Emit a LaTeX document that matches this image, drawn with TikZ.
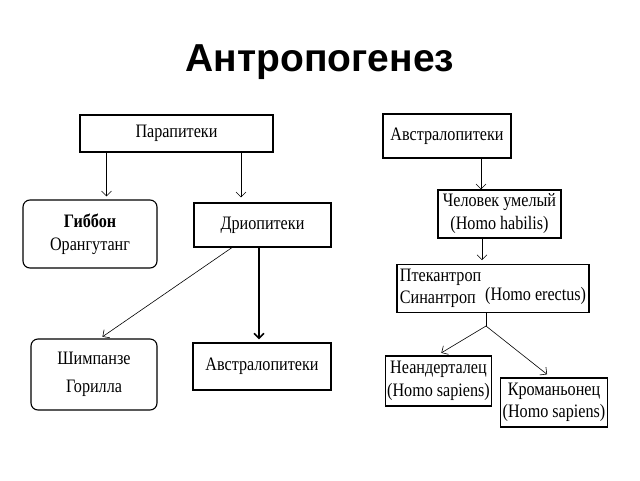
\documentclass[tikz,border=0pt]{standalone}
\usepackage{fontspec}
\usetikzlibrary{arrows.meta}
\setmainfont[FakeStretch=0.85]{Liberation Serif}
\newfontfamily\titlefont{Liberation Sans}
\begin{document}
\begin{tikzpicture}[>={Straight Barb[length=5pt,width=10pt]}, x=1pt, y=-1pt, line width=1.1pt]
\tikzstyle{every node}=[inner sep=2pt, font=\fontsize{19}{23}\selectfont, align=center]
\tikzstyle{box}=[draw, rectangle]
\tikzstyle{rbox}=[draw, rectangle, rounded corners=7pt]
\useasboundingbox (0,0) rectangle (640,480);
\node (title) at (320,62) {\titlefont\bfseries\fontsize{39}{44}\selectfont Антропогенез};
% left tree
\node[box, line width=1.6pt, minimum width=193pt, minimum height=37pt] (para) at (176.5,133.5) {Парапитеки};
\node[rbox, minimum width=134pt, minimum height=68pt] (gib) at (90,234) {\textbf{Гиббон}\\Орангутанг};
\node[box, minimum width=137pt, minimum height=44pt] (drio) at (262.5,225) {Дриопитеки};
\node[rbox, minimum width=126pt, minimum height=71pt] (chimp) at (94,374.5) {Шимпанзе\\[5pt]Горилла};
\node[box, minimum width=138pt, minimum height=47pt] (australL) at (262,366.5) {Австралопитеки};
\draw[->, line width=0.6pt, shorten >=3pt] ([xshift=-70pt]para.south) -- ([xshift=-70pt]para.south |- gib.north);
\draw[->, line width=0.6pt, shorten >=5pt] ([xshift=64.5pt]para.south) -- ([xshift=64.5pt]para.south |- drio.north);
\draw[->, line width=0.6pt, shorten >=3pt] ([xshift=-30.5pt]drio.south) -- ([xshift=6pt]chimp.north);
\draw[->, line width=1.6pt, shorten >=3pt] ([xshift=-3.5pt]drio.south) -- ([xshift=-3.5pt]drio.south |- australL.north);
% right tree
\node[box, minimum width=128pt, minimum height=44pt] (australR) at (447,136) {Австралопитеки};
\node[box, minimum width=123pt, minimum height=48pt] (habilis) at (499.5,214) {Человек умелый\\(Homo habilis)};
\node[box, minimum width=192pt, minimum height=45pt, font=\fontsize{19}{21}\selectfont] (erectus) at (493,288.5)
  {\begin{tabular}{@{}l@{\hspace{4pt}}l@{}}Птекантроп & \\ Синантроп & \raisebox{3pt}{(Homo erectus)}\end{tabular}};
\node[box, minimum width=105pt, minimum height=50pt] (neand) at (438.5,381) {Неандерталец\\(Homo sapiens)};
\node[box, minimum width=106pt, minimum height=49pt, font=\fontsize{19}{22}\selectfont] (cro) at (554,402.5) {Кроманьонец\\(Homo sapiens)};
\coordinate (split) at (486,326);
\draw[->, line width=0.6pt] ([xshift=34pt]australR.south) -- ([xshift=34pt]australR.south |- habilis.north);
\draw[->, line width=0.6pt, shorten >=4pt] ([xshift=-17.5pt]habilis.south) -- ([xshift=-17.5pt]habilis.south |- erectus.north);
\draw[line width=0.6pt] (split |- erectus.south) -- (split);
\draw[->, line width=0.6pt, shorten >=5pt] (split) -- ([xshift=-1.5pt]neand.north);
\draw[->, line width=0.6pt, shorten >=5pt] (split) -- ([xshift=-3pt]cro.north);
\end{tikzpicture}
\end{document}
